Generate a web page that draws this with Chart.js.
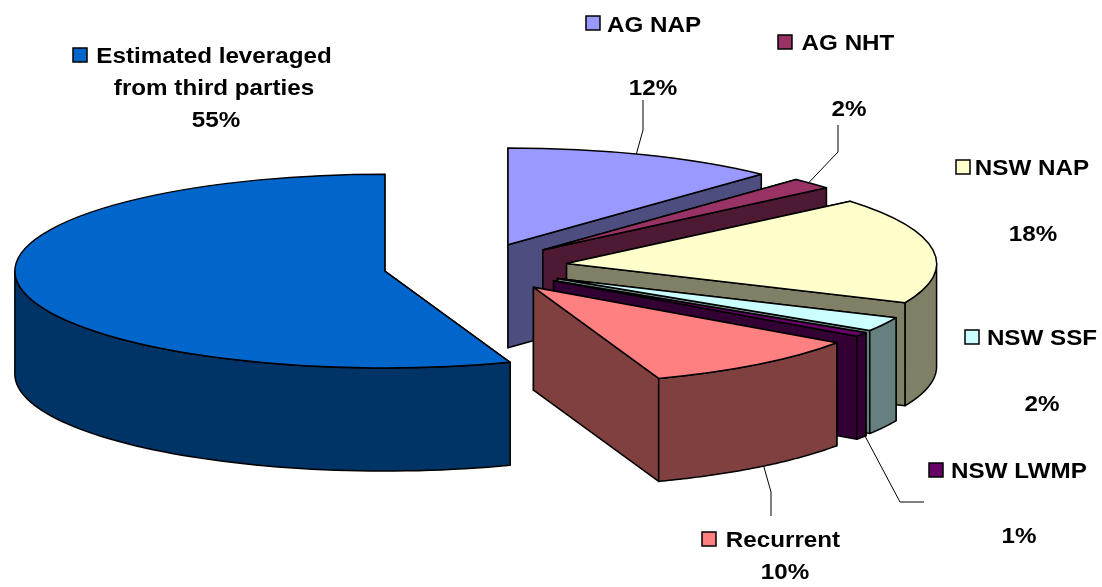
<!DOCTYPE html>
<html>
<head>
<meta charset="utf-8">
<title>Funding sources</title>
<script src="https://cdn.jsdelivr.net/npm/chart.js@4"></script>
<style>
  html, body { margin: 0; padding: 0; background: #fff; }
  canvas { display: block; }
</style>
</head>
<body>
<canvas id="pieChart" width="1102" height="587"></canvas>
<script>
// values, clockwise from 12 o'clock (labels show them rounded)
const sources = ['AG NAP', 'AG NHT', 'NSW NAP', 'NSW SSF', 'NSW LWMP', 'Recurrent', 'Estimated leveraged|from third parties'];
const shares = [12, 1.9, 17.7, 2.4, 0.7, 9.8, 55.49];

const topColours = ['#9999FF', '#993366', '#FFFFCC', '#CCFFFF', '#660066', '#FF8080', '#0066CC'];
const wallColours = ['#4D4D80', '#4D1933', '#808066', '#668080', '#330033', '#804040', '#003366'];

// how far each slice is pulled out of the pie
const explode = [91, 94, 93, 94, 95, 97, 91];

const SQUASH = 0.262;
const DEPTH = 103;
const TEXT_STRETCH = 1.1;

// text anchors for each source: name line(s), then percentage
const labelPlaces = [
  { keyX: 586, keyY: 16, nameX: 654, nameY: 32, pctX: 653, pctY: 95 },
  { keyX: 778, keyY: 35, nameX: 848, nameY: 50, pctX: 849, pctY: 116 },
  { keyX: 956, keyY: 160, nameX: 1032, nameY: 175, pctX: 1033, pctY: 241 },
  { keyX: 965, keyY: 330, nameX: 1042, nameY: 345, pctX: 1042, pctY: 411 },
  { keyX: 929, keyY: 463, nameX: 1019, nameY: 478, pctX: 1019, pctY: 543 },
  { keyX: 702, keyY: 532, nameX: 783, nameY: 547, pctX: 785, pctY: 579 },
  { keyX: 73, keyY: 48, nameX: 214, nameY: 63, pctX: 216, pctY: 127 }
];

// leader lines: where on the slice rim they start (0-1 across the slice), whether from the
// bottom of the wall, and the bends up to the label
const leaders = [
  { slice: 0, at: 0.47, low: false, bends: [[643, 130], [643, 100]] },
  { slice: 1, at: 0.4, low: false, bends: [[838, 152], [838, 125]] },
  { slice: 4, at: 0.1, low: true, bends: [[900, 502], [924, 502]] },
  { slice: 5, at: 0.47, low: true, bends: [[771, 492], [771, 516]] }
];

function apexOf(arc, i) {
  const mid = (arc.startAngle + arc.endAngle) / 2;
  return {
    x: arc.x + Math.cos(mid) * explode[i],
    y: arc.y + Math.sin(mid) * explode[i]
  };
}

function rimPoint(arc, i, angle, drop) {
  const apex = apexOf(arc, i);
  return {
    x: apex.x + Math.cos(angle) * arc.outerRadius,
    y: arc.y + (apex.y - arc.y + Math.sin(angle) * arc.outerRadius) * SQUASH + drop
  };
}

function apexPoint(arc, i, drop) {
  const apex = apexOf(arc, i);
  return { x: apex.x, y: arc.y + (apex.y - arc.y) * SQUASH + drop };
}

function fillPolygon(ctx, points, colour) {
  ctx.beginPath();
  points.forEach((p, n) => (n === 0 ? ctx.moveTo(p.x, p.y) : ctx.lineTo(p.x, p.y)));
  ctx.closePath();
  ctx.fillStyle = colour;
  ctx.fill();
  ctx.stroke();
}

function drawWalls(ctx, arc, i) {
  const colour = wallColours[i];
  [arc.startAngle, arc.endAngle].forEach(angle => {
    fillPolygon(ctx, [
      apexPoint(arc, i, 0), rimPoint(arc, i, angle, 0),
      rimPoint(arc, i, angle, DEPTH), apexPoint(arc, i, DEPTH)
    ], colour);
  });

  // outer wall, only the part facing the viewer
  const from = Math.max(arc.startAngle, 0);
  const to = Math.min(arc.endAngle, Math.PI);
  if (to <= from) return;
  const upper = [];
  const lower = [];
  for (let n = 0; n <= 60; n++) {
    const angle = from + (to - from) * n / 60;
    upper.push(rimPoint(arc, i, angle, 0));
    lower.unshift(rimPoint(arc, i, angle, DEPTH));
  }
  fillPolygon(ctx, upper.concat(lower), colour);
}

function drawTop(ctx, arc, i) {
  const apex = apexOf(arc, i);
  const squashed = () => {
    ctx.translate(0, arc.y);
    ctx.scale(1, SQUASH);
    ctx.translate(0, -arc.y);
  };

  // the fill comes from the arc element itself
  ctx.save();
  squashed();
  ctx.translate(apex.x - arc.x, apex.y - arc.y);
  arc.draw(ctx);
  ctx.restore();

  // outline built squashed, stroked unsquashed so the line stays even
  ctx.save();
  squashed();
  ctx.beginPath();
  ctx.moveTo(apex.x, apex.y);
  ctx.arc(apex.x, apex.y, arc.outerRadius, arc.startAngle, arc.endAngle);
  ctx.closePath();
  ctx.restore();
  ctx.stroke();
}

function drawText(ctx, text, x, y) {
  ctx.save();
  ctx.translate(x, y);
  ctx.scale(TEXT_STRETCH, 1);
  ctx.fillText(text, 0, 0);
  ctx.restore();
}

const pie3d = {
  id: 'pie3d',
  beforeDatasetDraw(chart, args) {
    const ctx = chart.ctx;
    ctx.save();
    ctx.strokeStyle = '#000';
    ctx.lineWidth = 1.5;
    ctx.lineJoin = 'round';
    // back slices first, blue does not touch the others
    args.meta.data.forEach((arc, i) => {
      drawWalls(ctx, arc, i);
      drawTop(ctx, arc, i);
    });
    ctx.restore();
    return false;
  },
  afterDraw(chart) {
    const ctx = chart.ctx;
    const arcs = chart.getDatasetMeta(0).data;
    ctx.save();

    ctx.strokeStyle = '#000';
    ctx.lineWidth = 1;
    leaders.forEach(line => {
      const arc = arcs[line.slice];
      const angle = arc.startAngle + (arc.endAngle - arc.startAngle) * line.at;
      const start = rimPoint(arc, line.slice, angle, line.low ? DEPTH : 0);
      ctx.beginPath();
      ctx.moveTo(start.x, start.y);
      line.bends.forEach(b => ctx.lineTo(b[0], b[1]));
      ctx.stroke();
    });

    ctx.font = 'bold 22px "Liberation Sans", Arial, sans-serif';
    ctx.textAlign = 'center';
    ctx.textBaseline = 'alphabetic';
    ctx.lineWidth = 1.5;
    sources.forEach((name, i) => {
      const place = labelPlaces[i];
      ctx.fillStyle = topColours[i];
      ctx.fillRect(place.keyX, place.keyY, 14, 14);
      ctx.strokeRect(place.keyX, place.keyY, 14, 14);
      ctx.fillStyle = '#000';
      name.split('|').forEach((line, n) => drawText(ctx, line, place.nameX, place.nameY + n * 32));
      drawText(ctx, Math.round(shares[i]) + '%', place.pctX, place.pctY);
    });
    ctx.restore();
  }
};

new Chart(document.getElementById('pieChart').getContext('2d'), {
  type: 'pie',
  data: {
    labels: sources,
    datasets: [{
      data: shares,
      backgroundColor: topColours,
      borderWidth: 0,
      radius: 370,
      clip: false
    }]
  },
  options: {
    responsive: false,
    animation: false,
    layout: { padding: { right: 153, bottom: 53 } },
    plugins: {
      legend: { display: false },
      tooltip: { enabled: false }
    }
  },
  plugins: [pie3d]
});
</script>
</body>
</html>
